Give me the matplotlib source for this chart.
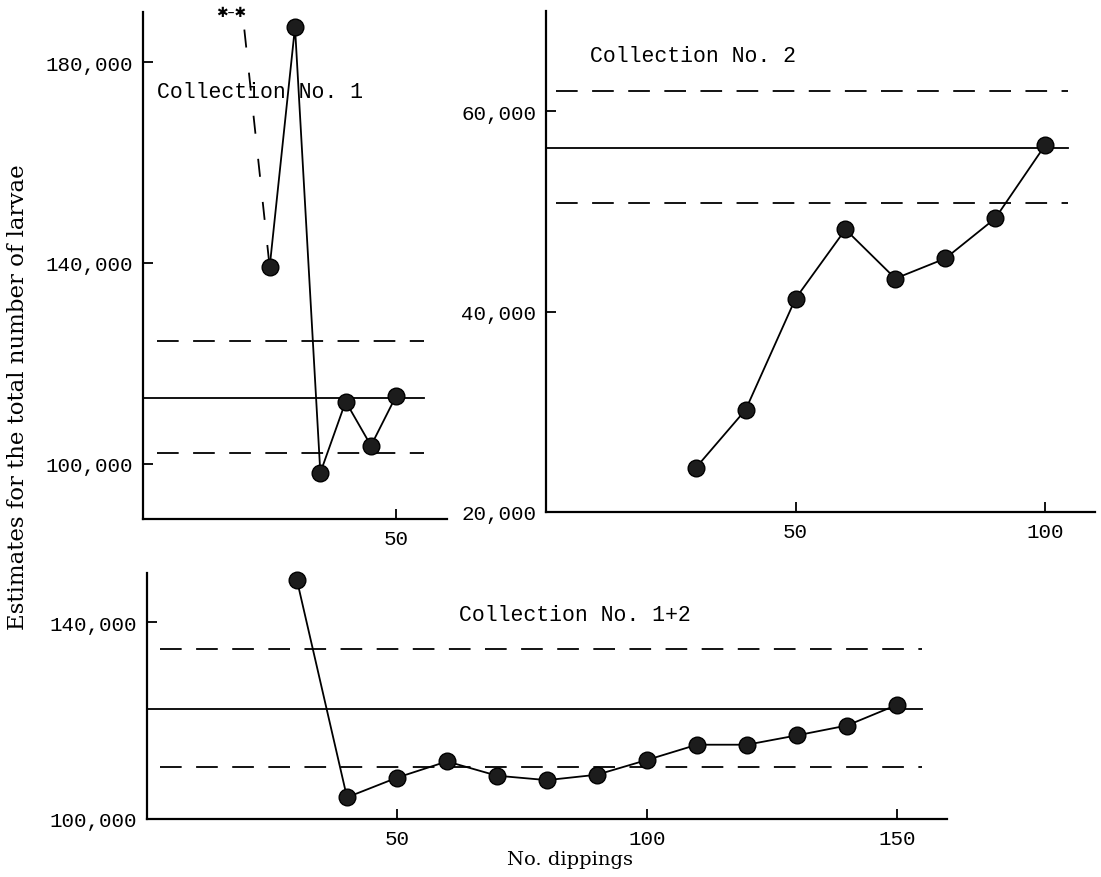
import matplotlib
matplotlib.use("Agg")
import matplotlib.pyplot as plt
from matplotlib.ticker import FuncFormatter

# Collection No. 1
c1_x = [25, 30, 35, 40, 45, 50]
c1_y = [139200, 187000, 98200, 112400, 103600, 113600]
c1_off_x = 20          # estimate off the scale (marked *-*)
c1_off_y = 186500
c1_mean, c1_lo, c1_hi = 113200, 102200, 124400

# Collection No. 2
c2_x = [30, 40, 50, 60, 70, 80, 90, 100]
c2_y = [24400, 30200, 41300, 48200, 43300, 45300, 49300, 56600]
c2_mean, c2_lo, c2_hi = 56300, 50800, 62000

# Collection No. 1+2
c3_x = [30, 40, 50, 60, 70, 80, 90, 100, 110, 120, 130, 140, 150]
c3_y = [148500, 104400, 108400, 111700, 108800, 107900, 109000,
        112000, 115100, 115100, 117000, 119000, 123200]
c3_mean, c3_lo, c3_hi = 122300, 110500, 134500

MONO = "Liberation Mono"
SERIF = "DejaVu Serif"

fig = plt.figure(figsize=(11.01, 8.78), dpi=100)
W, H = 1101, 878


def make_ax(l, r, t, b):
    return fig.add_axes([l / W, (H - b) / H, (r - l) / W, (b - t) / H])


def style(ax, xticks, yticks):
    for s in ("top", "right"):
        ax.spines[s].set_visible(False)
    for s in ("left", "bottom"):
        ax.spines[s].set_linewidth(1.6)
    ax.set_xticks(xticks)
    ax.set_yticks(yticks)
    ax.yaxis.set_major_formatter(FuncFormatter(lambda v, p: f"{v:,.0f}"))
    ax.tick_params(direction="in", length=7, width=1.3, labelsize=15, pad=7)
    for lab in ax.get_xticklabels() + ax.get_yticklabels():
        lab.set_fontfamily(MONO)


def draw(ax, x, y, mean, lo, hi, x0, x1):
    dash = dict(color="black", lw=1.3, dashes=(12, 8))
    ax.plot([x0, x1], [hi, hi], **dash)
    ax.plot([x0, x1], [lo, lo], **dash)
    ax.plot([0, x1], [mean, mean], color="black", lw=1.3)
    ax.plot(x, y, color="black", lw=1.3, marker="o", ms=12,
            mfc="#1c1c1c", mec="black", clip_on=False, zorder=3)


ax1 = make_ax(143, 447, 13, 520)
ax1.set_xlim(0, 60)
ax1.set_ylim(89000, 190000)
draw(ax1, c1_x, c1_y, c1_mean, c1_lo, c1_hi, 2.8, 55.5)
ax1.plot([c1_off_x, c1_x[0]], [c1_off_y, c1_y[0]], color="black", lw=1.3,
         dashes=(10, 14))
ax1.text(c1_off_x + 0.4, 190000, "✱–✱", family="DejaVu Sans", fontsize=10,
         ha="right", va="center", clip_on=False)
ax1.text(2.8, 174200, "Collection No. 1", family=MONO, fontsize=15.5,
         va="center")
style(ax1, [50], [100000, 140000, 180000])

ax2 = make_ax(546, 1095, 12, 513)
ax2.set_xlim(0, 110)
ax2.set_ylim(20000, 70000)
draw(ax2, c2_x, c2_y, c2_mean, c2_lo, c2_hi, 2, 104.5)
ax2.text(8.8, 65600, "Collection No. 2", family=MONO, fontsize=15.5,
         va="center")
style(ax2, [50, 100], [20000, 40000, 60000])

ax3 = make_ax(147, 947, 574, 820)
ax3.set_xlim(0, 160)
ax3.set_ylim(100000, 150000)
draw(ax3, c3_x, c3_y, c3_mean, c3_lo, c3_hi, 2.5, 155)
ax3.text(62.4, 141500, "Collection No. 1+2", family=MONO, fontsize=15.5,
         va="center")
style(ax3, [50, 100, 150], [100000, 140000])

fig.text(18 / W, 1 - 397 / H, "Estimates for the total number of larvae",
         family=SERIF, fontsize=16.5, rotation=90, ha="center", va="center")
fig.text(570 / W, 1 - 860 / H, "No. dippings", family=SERIF, fontsize=14,
         ha="center", va="center")

fig.savefig("out.png", dpi=100)
